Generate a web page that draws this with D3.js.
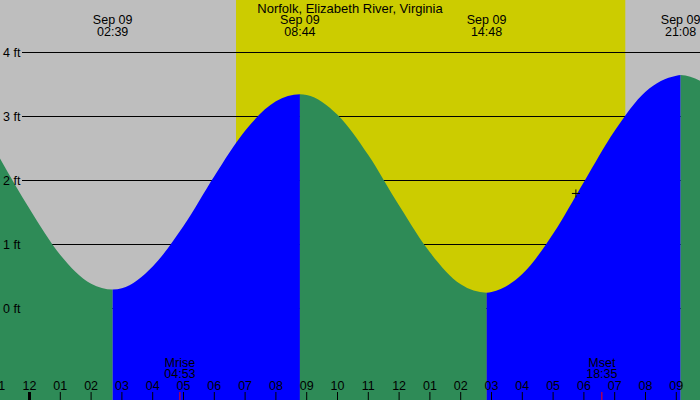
<!DOCTYPE html>
<html>
<head>
<meta charset="utf-8">
<script src="https://cdn.jsdelivr.net/npm/d3@7"></script>
<style>
body { margin: 0; }
svg { display: block; font-family: "Liberation Sans", Arial, sans-serif; font-size: 12.5px; }
</style>
</head>
<body>
<svg width="700" height="400"></svg>
<script>
let title = 'Norfolk, Elizabeth River, Virginia'

// tide height (ft), hours from midnight Sep 09
let tideHours = [-1, 0, 1, 2, 2.7, 3, 4, 5, 6, 7, 8, 8.78, 9, 10, 11, 12, 13, 14, 14.84, 15, 16, 17, 18, 19, 20, 21, 21.14, 22]
let tideFeet = [2.37, 1.55, 0.83, 0.38, 0.29, 0.31, 0.65, 1.28, 2.06, 2.77, 3.23, 3.34, 3.33, 3.02, 2.39, 1.60, 0.87, 0.37, 0.24, 0.25, 0.53, 1.16, 1.97, 2.77, 3.38, 3.63, 3.64, 3.49]

// where the turn of the tide sits on the picture
let extremeHours = [2.7, 8.78, 14.84, 21.14]
let extremeTypes = ['low', 'high', 'low', 'high']
let extremeDates = ['Sep 09', 'Sep 09', 'Sep 09', 'Sep 09']
let extremeTimes = ['02:39', '08:44', '14:48', '21:08']

let sunHours = [6.705, 19.344]

let moonHours = [4.883, 18.583]
let moonNames = ['Mrise', 'Mset']
let moonTimes = ['04:53', '18:35']

let tickHours = [-1, 0, 1, 2, 3, 4, 5, 6, 7, 8, 9, 10, 11, 12, 13, 14, 15, 16, 17, 18, 19, 20, 21, 22]
let tickLabels = ['11', '12', '01', '02', '03', '04', '05', '06', '07', '08', '09', '10', '11', '12', '01', '02', '03', '04', '05', '06', '07', '08', '09', '10']

let feetTicks = [0, 1, 2, 3, 4]
let feetLabels = ['0 ft', '1 ft', '2 ft', '3 ft', '4 ft']

let nowHour = 17.74
let nowFeet = 1.79

let W = 700, H = 400

let x = d3.scaleLinear().domain([0, 21]).range([29.5, 676.3])
let y = d3.scaleLinear().domain([0, 4]).range([308, 52])

let svg = d3.select('svg')

// night / day background
svg.append('rect').attr('width', W).attr('height', H).attr('fill', '#bebebe')
svg.append('rect')
    .attr('x', x(sunHours[0]))
    .attr('width', x(sunHours[1]) - x(sunHours[0]))
    .attr('height', H)
    .attr('fill', '#cccc00')

// grid lines (under the water)
svg.selectAll('line.grid')
    .data(feetTicks)
    .enter()
    .append('line')
    .attr('class', 'grid')
    .attr('x1', 22)
    .attr('x2', W)
    .attr('y1', d => y(d))
    .attr('y2', d => y(d))
    .attr('stroke', '#000')
    .attr('shape-rendering', 'crispEdges')

// tide area used as a clip, filled per rising / falling stretch
let tide = tideHours.map((h, i) => ({ h: h, f: tideFeet[i] }))
let area = d3.area()
    .x(d => x(d.h))
    .y0(H)
    .y1(d => y(d.f))
    .curve(d3.curveMonotoneX)

svg.append('clipPath')
    .attr('id', 'tide')
    .append('path')
    .attr('d', area(tide))

let bounds = [x.invert(0)].concat(extremeHours, [x.invert(W)])
let segs = d3.range(bounds.length - 1).map(i => ({
    a: bounds[i],
    b: bounds[i + 1],
    rising: i < extremeTypes.length ? extremeTypes[i] == 'high' : extremeTypes[extremeTypes.length - 1] == 'low'
}))

svg.selectAll('rect.seg')
    .data(segs)
    .enter()
    .append('rect')
    .attr('class', 'seg')
    .attr('x', d => x(d.a))
    .attr('width', d => x(d.b) - x(d.a))
    .attr('height', H)
    .attr('fill', d => d.rising ? '#0000ff' : '#2e8b57')
    .attr('clip-path', 'url(#tide)')

// y labels
svg.selectAll('text.ft')
    .data(feetTicks)
    .enter()
    .append('text')
    .attr('class', 'ft')
    .attr('x', 3)
    .attr('y', d => y(d) + 4.5)
    .text((d, i) => feetLabels[i])

// title and tide extremes
svg.append('text')
    .attr('x', W / 2)
    .attr('y', 12.5)
    .attr('text-anchor', 'middle')
    .style('font-size', '13px')
    .text(title)

let ext = svg.selectAll('g.ext')
    .data(extremeHours)
    .enter()
    .append('g')
    .attr('class', 'ext')
    .attr('text-anchor', 'middle')
ext.append('text').attr('x', d => x(d)).attr('y', 24).text((d, i) => extremeDates[i])
ext.append('text').attr('x', d => x(d)).attr('y', 36).text((d, i) => extremeTimes[i])

// hour axis
svg.selectAll('line.tick')
    .data(tickHours)
    .enter()
    .append('line')
    .attr('class', 'tick')
    .attr('x1', d => x(d))
    .attr('x2', d => x(d))
    .attr('y1', 392)
    .attr('y2', H)
    .attr('stroke', '#000')
    .attr('stroke-width', d => d == 0 ? 3 : 1)

svg.selectAll('text.tick')
    .data(tickHours)
    .enter()
    .append('text')
    .attr('class', 'tick')
    .attr('x', d => x(d))
    .attr('y', 390)
    .attr('text-anchor', 'middle')
    .text((d, i) => tickLabels[i])

// moon rise / set
svg.selectAll('line.moon')
    .data(moonHours)
    .enter()
    .append('line')
    .attr('class', 'moon')
    .attr('x1', d => x(d))
    .attr('x2', d => x(d))
    .attr('y1', 392)
    .attr('y2', H)
    .attr('stroke', '#ff0000')

let moon = svg.selectAll('g.moon')
    .data(moonHours)
    .enter()
    .append('g')
    .attr('class', 'moon')
    .attr('text-anchor', 'middle')
moon.append('text').attr('x', d => x(d)).attr('y', 366.5).text((d, i) => moonNames[i])
moon.append('text').attr('x', d => x(d)).attr('y', 378).text((d, i) => moonTimes[i])

// current level marker
let cx = x(nowHour), cy = y(nowFeet)
svg.append('path')
    .attr('d', `M${cx - 4},${cy}H${cx + 4}M${cx},${cy - 4}V${cy + 4}`)
    .attr('stroke', '#000')
    .attr('fill', 'none')
</script>
</body>
</html>
